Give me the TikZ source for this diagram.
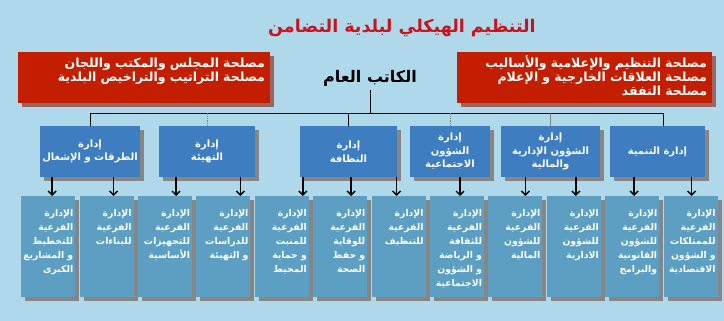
\documentclass[tikz,border=0pt]{standalone}
\usepackage{fontspec}
\usetikzlibrary{arrows.meta, positioning, calc, shadows}
\newfontfamily\arabicfont[Script=Arabic]{DejaVu Sans}
\TeXXeTstate=1
\newcommand{\artxt}[1]{\beginR #1\endR}
\definecolor{orgbg}{HTML}{B0D8EB}
\definecolor{orgred}{HTML}{C41E00}
\definecolor{titlered}{HTML}{C8141E}
\definecolor{deptblue}{HTML}{3D7DC0}
\definecolor{subblue}{HTML}{5D9FC2}
\definecolor{orgshade}{HTML}{868686}
\tikzset{
  orgshadow/.style={drop shadow={shadow xshift=4pt, shadow yshift=-4pt, fill=orgshade, opacity=1}},
  redbox/.style={fill=orgred, text=white, align=right, inner xsep=5pt, inner ysep=5pt,
    font=\arabicfont\bfseries\fontsize{12.5}{12.5}\selectfont,
    text height=11pt, text depth=30pt, drop shadow={shadow xshift=4pt, shadow yshift=-4pt, fill=gray!80!red, opacity=1}},
  deptbox/.style={fill=deptblue, text=white, align=center, minimum height=51pt, inner sep=2pt,
    font=\arabicfont\bfseries\fontsize{10}{13.5}\selectfont, orgshadow},
  subbox/.style={fill=subblue, text=white, align=right, minimum width=54pt, text width=50pt,
    inner xsep=2pt, inner ysep=6pt, text height=14pt, text depth=75pt,
    font=\arabicfont\bfseries\fontsize{9.3}{14}\selectfont, orgshadow},
  orgline/.style={black, line width=0.8pt},
  downarrow/.style={-{Straight Barb[length=4pt, width=8pt, line width=1.4pt]}, line width=1.6pt, black},
}
\begin{document}
\begin{tikzpicture}[x=1pt, y=-1pt]
  \fill[orgbg] (0,0) rectangle (724,321);
  \useasboundingbox (0,0) rectangle (724,321);
  % Titel
  \node[text=titlered, font=\arabicfont\bfseries\fontsize{17.5}{20}\selectfont] (title) at (402,28)
    {\artxt{التنظيم الهيكلي لبلدية التضامن}};
  % Dienste
  \node[redbox, minimum width=252pt, text width=242pt] (servL) at (144,77.5)
    {\artxt{مصلحة المجلس والمكتب واللجان}\\\artxt{مصلحة التراتيب والتراخيص البلدية}};
  \node[redbox, minimum width=255pt, text width=245pt] (servR) at (584.5,77.5)
    {\artxt{مصلحة التنظيم والإعلامية والأساليب}\\\artxt{مصلحة العلاقات الخارجية و الإعلام}\\\artxt{مصلحة التفقد}};
  \node[font=\arabicfont\bfseries\fontsize{16}{18}\selectfont] (sg) at (370,78)
    {\artxt{الكاتب العام}};
  % Direktionen
  \node[deptbox, minimum width=96pt] (roads) at (90,151.5)
    {\artxt{إدارة}\\\artxt{الطرقات و الإشغال}};
  \node[deptbox, minimum width=96pt] (planning) at (207,151.5)
    {\artxt{إدارة}\\\artxt{التهيئة}};
  \node[deptbox, minimum width=97pt] (clean) at (348.5,151.5)
    {\artxt{إدارة}\\\artxt{النظافة}};
  \node[deptbox, minimum width=80pt] (social) at (450,151.5)
    {\artxt{إدارة}\\\artxt{الشؤون}\\\artxt{الاجتماعية}};
  \node[deptbox, minimum width=99pt] (admin) at (550.5,151.5)
    {\artxt{إدارة}\\\artxt{الشؤون الإدارية}\\\artxt{والمالية}};
  \node[deptbox, minimum width=95pt] (devel) at (657.5,151.5)
    {\artxt{إدارة التنمية}};
  \coordinate (barL) at (90,113);
  \coordinate (barR) at (663,113);
  \draw[orgline] (barL) -- (barR);
  \draw[orgline] (sg.south) -- (sg.south |- barL);
  \draw[orgline] (roads.north) -- (roads.north |- barL);
  \draw[orgline, gray, densely dotted] (planning.north) -- (planning.north |- barL);
  \draw[orgline] (clean.north) -- (clean.north |- barL);
  \draw[orgline, gray, densely dotted] (social.north) -- (social.north |- barL);
  \draw[orgline, gray] (admin.north) -- (admin.north |- barL);
  \draw[orgline] ($(devel.north)+(5.5,0)$) -- ($(devel.north |- barL)+(5.5,0)$);
  % Unterdirektionen
  \node[subbox, anchor=north west] (plan) at (21,196)
    {\artxt{الإدارة}\\\artxt{الفرعية}\\\artxt{للتخطيط}\\\artxt{و المشاريع}\\\artxt{الكبرى}};
  \node[subbox, right=4pt of plan] (build)
    {\artxt{الإدارة}\\\artxt{الفرعية}\\\artxt{للبناءات}};
  \node[subbox, right=4pt of build] (equip)
    {\artxt{الإدارة}\\\artxt{الفرعية}\\\artxt{للتجهيزات}\\\artxt{الأساسية}};
  \node[subbox, right=4pt of equip] (study)
    {\artxt{الإدارة}\\\artxt{الفرعية}\\\artxt{للدراسات}\\\artxt{و التهيئة}};
  \node[subbox, right=4pt of study] (green)
    {\artxt{الإدارة}\\\artxt{الفرعية}\\\artxt{للمنبت}\\\artxt{و حماية}\\\artxt{المحيط}};
  \node[subbox, right=4pt of green] (health)
    {\artxt{الإدارة}\\\artxt{الفرعية}\\\artxt{للوقاية}\\\artxt{و حفظ}\\\artxt{الصحة}};
  \node[subbox, right=4pt of health] (sweep)
    {\artxt{الإدارة}\\\artxt{الفرعية}\\\artxt{للتنظيف}};
  \node[subbox, right=4pt of sweep] (culture)
    {\artxt{الإدارة}\\\artxt{الفرعية}\\\artxt{للثقافة}\\\artxt{و الرياضة}\\\artxt{و الشؤون}\\\artxt{الاجتماعية}};
  \node[subbox, right=4pt of culture] (finance)
    {\artxt{الإدارة}\\\artxt{الفرعية}\\\artxt{للشؤون}\\\artxt{المالية}};
  \node[subbox, right=4pt of finance] (adminsub)
    {\artxt{الإدارة}\\\artxt{الفرعية}\\\artxt{للشؤون}\\\artxt{الادارية}};
  \node[subbox, right=4pt of adminsub] (legal)
    {\artxt{الإدارة}\\\artxt{الفرعية}\\\artxt{للشؤون}\\\artxt{القانونية}\\\artxt{والبرامج}};
  \node[subbox, right=4pt of legal] (estate)
    {\artxt{الإدارة}\\\artxt{الفرعية}\\\artxt{للممتلكات}\\\artxt{و الشؤون}\\\artxt{الاقتصادية}};
  % Pfeile
  \draw[downarrow] ($(plan.north |- roads.south)+(4,0)$) -- ($(plan.north)+(4,0)$);
  \draw[downarrow] ($(build.north |- roads.south)+(7,0)$) -- ($(build.north)+(7,0)$);
  \draw[downarrow] ($(equip.north |- planning.south)+(11,0)$) -- ($(equip.north)+(11,0)$);
  \draw[downarrow] ($(study.north |- planning.south)+(17,0)$) -- ($(study.north)+(17,0)$);
  \draw[downarrow] ($(green.north |- clean.south)+(21,0)$) -- ($(green.north)+(21,0)$);
  \draw[downarrow] ($(health.north |- clean.south)+(11,0)$) -- ($(health.north)+(11,0)$);
  \draw[downarrow] ($(sweep.north |- clean.south)+(-2,0)$) -- ($(sweep.north)+(-2,0)$);
  \draw[downarrow] ($(culture.north |- social.south)+(3,0)$) -- ($(culture.north)+(3,0)$);
  \draw[downarrow] ($(finance.north |- admin.south)+(10,0)$) -- ($(finance.north)+(10,0)$);
  \draw[downarrow] ($(adminsub.north |- admin.south)+(2,0)$) -- ($(adminsub.north)+(2,0)$);
  \draw[downarrow] ($(legal.north |- devel.south)+(2,0)$) -- ($(legal.north)+(2,0)$);
  \draw[downarrow] ($(estate.north |- devel.south)+(1,0)$) -- ($(estate.north)+(1,0)$);
\end{tikzpicture}
\end{document}
